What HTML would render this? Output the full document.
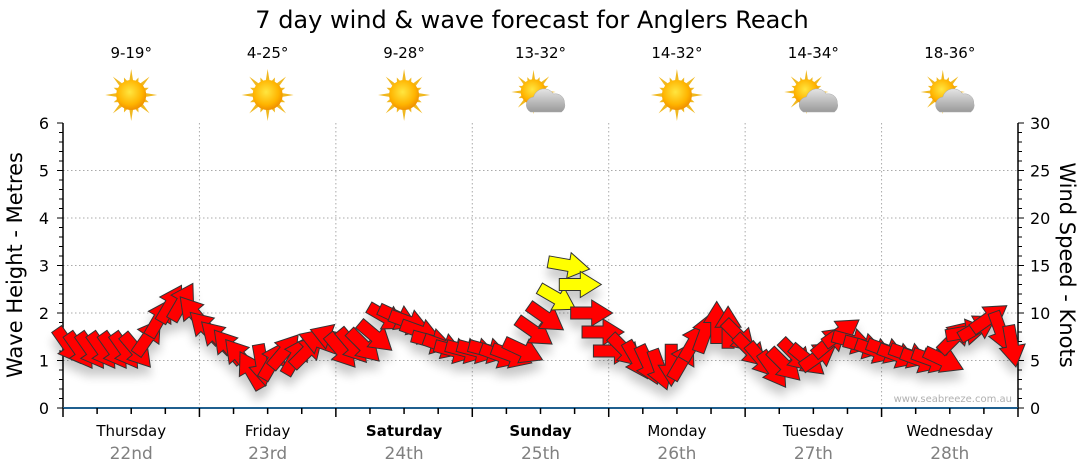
<!DOCTYPE html>
<html><head><meta charset="utf-8">
<style>
html,body{margin:0;padding:0;background:#fff;}
svg{display:block;font-family:"DejaVu Sans","Liberation Sans",sans-serif;}
</style></head>
<body>
<svg id="chart" width="1080" height="475" viewBox="0 0 1080 475">
<defs>
<radialGradient id="sunG" cx="45%" cy="40%" r="60%"><stop offset="0" stop-color="#ffe640"/><stop offset="0.7" stop-color="#ffb400"/><stop offset="1" stop-color="#f09000"/></radialGradient>
<linearGradient id="cloudG" x1="0" y1="0" x2="0" y2="1"><stop offset="0" stop-color="#e4e4e4"/><stop offset="1" stop-color="#9a9a9a"/></linearGradient>
<filter id="shadow" x="-50%" y="-50%" width="200%" height="250%"><feGaussianBlur in="SourceAlpha" stdDeviation="5"/><feOffset dx="0" dy="9"/><feComponentTransfer><feFuncA type="linear" slope="0.22"/></feComponentTransfer><feMerge><feMergeNode/><feMergeNode in="SourceGraphic"/></feMerge></filter>
</defs>
<text x="532" y="28" font-size="24" text-anchor="middle" fill="#000">7 day wind &amp; wave forecast for Anglers Reach</text>
<g id="grid"></g>
<g id="axes"></g>
<g id="days"></g>
<g id="arrows" filter="url(#shadow)"></g>
<text x="1012" y="402" font-size="10" text-anchor="end" fill="#b0b0b0">www.seabreeze.com.au</text>
<text transform="translate(22,265) rotate(-90)" font-size="21" text-anchor="middle" fill="#000">Wave Height - Metres</text>
<text transform="translate(1060,265) rotate(90)" font-size="21" text-anchor="middle" fill="#000">Wind Speed - Knots</text>
</svg>
<script>
const dayNames = ["Thursday","Friday","Saturday","Sunday","Monday","Tuesday","Wednesday"];
const dayDates = ["22nd","23rd","24th","25th","26th","27th","28th"];
const dayBold = [false,false,true,true,false,false,false];
const tempRanges = ["9-19°","4-25°","9-28°","13-32°","14-32°","14-34°","18-36°"];
const iconTypes = ["sun","sun","sun","cloud","sun","cloud","cloud"];
const waveTicks = [0,1,2,3,4,5,6];
const windTicks = [0,5,10,15,20,25,30];
// 2-hourly wind: speed in knots, arrow direction (deg, 0 = pointing right, clockwise)
const windSpeeds = [
 6.5,6,6,6,6,6,6,7.5,9.5,11,11.2,10,
 8.5,7.5,6.5,5.5,4,4.5,5,6,5.5,6,7,7.5,
 6,6.5,6.5,7.5,9.5,9.5,9,8,7,6.5,6,6,
 6,6,5.5,5.5,6,8,9.5,11.5,15,13,10,8,
 6,6,5,4.5,4,4.5,5,7,8,9,8.5,7.5,
 6,5,4,4.5,5.5,5,5.5,7,8,7,6.5,6,
 6,5.5,5.5,5,5,5,7.5,8,8.5,9.5,8,6.5];
const windDirs = [
 55,55,55,55,55,55,50,-55,-60,-60,-60,-130,
 -135,-135,-130,-130,-120,80,-60,-50,-60,-45,-160,-160,
 50,50,45,40,30,25,20,20,15,20,15,15,
 15,15,20,20,25,35,35,30,10,0,0,0,
 0,45,60,65,70,90,-60,-60,-70,-90,-90,45,
 45,50,55,45,45,40,-35,-40,-35,15,15,20,
 20,20,20,20,20,25,-45,-10,-30,-35,70,80];
const stepHours = 2;

const NS="http://www.w3.org/2000/svg";
const X0=63,X1=1018,Y0=408,Y1=123;
const dayW=(X1-X0)/7;
function xHour(h){return X0+h/24*dayW;}
function yWave(m){return Y0-(m/6)*(Y0-Y1);}
function yWind(k){return Y0-(k/30)*(Y0-Y1);}
function mk(tag,attrs,parent){const e=document.createElementNS(NS,tag);for(const k in attrs)e.setAttribute(k,attrs[k]);parent.appendChild(e);return e;}
const grid=document.getElementById('grid'),axes=document.getElementById('axes'),days=document.getElementById('days'),arrows=document.getElementById('arrows');

waveTicks.forEach(v=>{if(v===0||v===6)return;
 const l=mk('line',{x1:X0,x2:X1,y1:yWave(v),y2:yWave(v),stroke:'#aaa','stroke-dasharray':'1.5,2.5'},grid);
 
 });
for(let d=1;d<7;d++){
 const l=mk('line',{x1:X0+d*dayW,x2:X0+d*dayW,y1:Y1,y2:Y0,stroke:'#aaa','stroke-dasharray':'1.5,2.5'},grid);
 
 }

mk('line',{x1:X0,x2:X0,y1:Y1,y2:Y0,stroke:'#000','stroke-width':1.5},axes);
mk('line',{x1:X1,x2:X1,y1:Y1,y2:Y0,stroke:'#000','stroke-width':1.5},axes);
mk('line',{x1:X0,x2:X1,y1:Y0,y2:Y0,stroke:'#1f5f8f','stroke-width':2},axes);
for(let i=0;i<=30;i++){const y=yWave(i*0.2);mk('line',{x1:X0-(i%5===0?6:4),x2:X0,y1:y,y2:y,stroke:'#000'},axes);}
for(let i=0;i<=30;i++){const y=yWind(i);mk('line',{x1:X1,x2:X1+(i%5===0?6:4),y1:y,y2:y,stroke:'#000'},axes);}
waveTicks.forEach(v=>{const t=mk('text',{x:X0-14,y:yWave(v)+6,'font-size':16,'text-anchor':'end'},axes);t.textContent=v;
 
 });
windTicks.forEach(v=>{const t=mk('text',{x:X1+12,y:yWind(v)+6,'font-size':16,'text-anchor':'start'},axes);t.textContent=v;
 
 });
for(let h=0;h<=168;h+=6){const x=xHour(h);mk('line',{x1:x,x2:x,y1:Y0,y2:Y0+(h%24===0?9:6),stroke:'#000','stroke-width':1.5},axes);}

function sun(g,cx,cy,s){
 for(let i=0;i<16;i++){const a=i*Math.PI/8;const L=(i%2===0?26:19)*s;
  const p=[[cx+Math.cos(a)*L,cy+Math.sin(a)*L],[cx+Math.cos(a+0.14)*14*s,cy+Math.sin(a+0.14)*14*s],[cx+Math.cos(a-0.14)*14*s,cy+Math.sin(a-0.14)*14*s]];
  mk('polygon',{points:p.map(q=>q.join(',')).join(' '),fill:'#f0b820'},g);}
 mk('circle',{cx:cx,cy:cy,r:15*s,fill:'url(#sunG)'},g);
}
for(let d=0;d<7;d++){
 const cx=X0+(d+0.5)*dayW;
 const g=mk('g',{},days);
 
 
 const t=mk('text',{x:cx,y:58,'font-size':15,'text-anchor':'middle'},g);t.textContent=tempRanges[d];
 if(iconTypes[d]==='sun'){sun(g,cx,95,1);}
 else{sun(g,cx-7,92,0.85);
  mk('path',{d:`M${cx-10},${112} a8,8 0 0 1 3,-15 a11,11 0 0 1 20,-3 a9,9 0 0 1 11,9 a8,8 0 0 1 -3,9 z`,fill:'url(#cloudG)',stroke:'#aaa','stroke-width':0.5},g);}
 const n=mk('text',{x:cx,y:436,'font-size':15,'text-anchor':'middle','font-weight':dayBold[d]?'bold':'normal'},g);n.textContent=dayNames[d];
 const dt=mk('text',{x:cx,y:459,'font-size':17,'text-anchor':'middle',fill:'#808080'},g);dt.textContent=dayDates[d];
}

windSpeeds.forEach((s,i)=>{
 const x=xHour(i*stepHours+1),y=yWind(s);
 const col=s>=11.4?'#ffff00':'#ff0000';
 const p=mk('polygon',{points:'-21,-6 0,-6 0,-13 21,0 0,13 0,6 -21,6',fill:col,stroke:'#333','stroke-width':1,transform:`translate(${x},${y}) rotate(${windDirs[i]})`},arrows);
 
 
});
</script>
</body></html>
